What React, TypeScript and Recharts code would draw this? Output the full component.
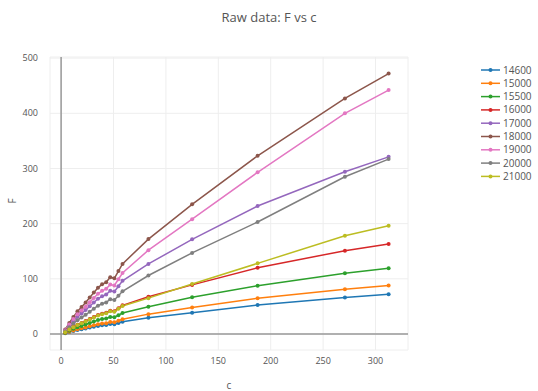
import React from "react";
import { LineChart, Line, XAxis, YAxis, CartesianGrid, ReferenceLine, Legend, Label } from "recharts";

const cValues = [3.9, 7.8, 11.7, 15.6, 19.5, 23.4, 27.3, 31.2, 35.2, 39.1, 43, 46.9, 50.8, 54.7, 58.6, 83.3, 125, 187.5, 270.8, 312.5];

const s14600 = [1.4, 3.5, 5.4, 7.2, 8.6, 10, 11.6, 13.1, 14.7, 15.8, 16.5, 18, 17.7, 20, 22.2, 29.6, 38.6, 52.5, 66, 72];
const s15000 = [1.7, 4.2, 6.5, 8.6, 10.3, 12, 13.9, 15.8, 17.6, 18.9, 19.7, 21.6, 21.2, 23.9, 26.7, 36, 48, 64.6, 81, 88];
const s15500 = [2.4, 6, 9.3, 12.3, 14.7, 17.1, 19.8, 22.5, 25.2, 27, 28.2, 30.9, 30.3, 34.2, 38, 49.5, 66.5, 87.5, 110, 119];
const s16000 = [3.3, 8.2, 12.7, 16.8, 20.1, 23.4, 27.1, 30.8, 34.4, 36.9, 38.5, 42.2, 41.4, 46.7, 52, 67.6, 89, 120, 151, 163];
const s17000 = [6.1, 15.2, 23.6, 31.2, 37.2, 43.3, 50.2, 57, 63.8, 68.4, 71.4, 78.3, 76.8, 86.6, 96.5, 127, 171.5, 232, 294, 321];
const s18000 = [8, 20, 31, 41, 49, 57, 66, 75, 84, 90, 94, 103, 101, 114, 127, 172, 235, 323, 427, 472];
const s19000 = [7, 17.4, 27, 35.7, 42.6, 49.6, 57.4, 65.3, 73, 78.3, 81.8, 89.6, 87.9, 99.2, 110.5, 152, 208, 293, 400, 442];
const s20000 = [4.9, 12.2, 18.9, 25, 29.9, 34.8, 40.3, 45.8, 51.2, 54.9, 57.3, 62.8, 61.6, 69.5, 77.5, 106, 147, 203, 285, 317];
const s21000 = [3.2, 8, 12.4, 16.4, 19.6, 22.8, 26.4, 30, 33.6, 36, 37.6, 41.2, 40.4, 45.6, 50.8, 65, 90.6, 128, 178, 196];

const seriesNames = ["14600", "15000", "15500", "16000", "17000", "18000", "19000", "20000", "21000"];
const seriesValues = [s14600, s15000, s15500, s16000, s17000, s18000, s19000, s20000, s21000];
const colors = ["#1f77b4", "#ff7f0e", "#2ca02c", "#d62728", "#9467bd", "#8c564b", "#e377c2", "#7f7f7f", "#bcbd22"];

const xTicks = [0, 50, 100, 150, 200, 250, 300];
const yTicks = [0, 100, 200, 300, 400, 500];

const data = cValues.map((c, i) => {
  const row: Record<string, number> = { c };
  seriesNames.forEach((n, k) => {
    row[n] = seriesValues[k][i];
  });
  return row;
});

const FONT = "'Open Sans', 'Noto Sans', sans-serif";

const LegendContent = () => (
  <svg width={60} height={130}>
    {seriesNames.map((n, i) => {
      const y = 7 + i * 13.3;
      return (
        <g key={n}>
          <line x1={3} x2={22} y1={y} y2={y} stroke={colors[i]} strokeWidth={1.5} />
          <circle cx={12.5} cy={y} r={2} fill={colors[i]} />
          <text x={25} y={y + 3.5} fontSize={10} fill="#555" fontFamily={FONT}>
            {n}
          </text>
        </g>
      );
    })}
  </svg>
);

export default function App() {
  return (
    <div style={{ position: "absolute", left: 0, top: 0, width: 538, height: 391, background: "#fff" }}>
      <div
        style={{
          position: "absolute",
          left: 0,
          top: 8,
          width: 538,
          textAlign: "center",
          fontFamily: FONT,
          fontSize: 13,
          color: "#555",
        }}
      >
        Raw data: F vs c
      </div>
      <LineChart width={538} height={391} data={data} margin={{ top: 57, right: 70, bottom: 0, left: 0 }}>
        <CartesianGrid stroke="#eeeeee" strokeWidth={1} />
        <XAxis
          dataKey="c"
          type="number"
          domain={[-10.6, 331]}
          ticks={xTicks}
          axisLine={false}
          tickLine={false}
          height={41}
          tick={{ fontSize: 9, fill: "#555", fontFamily: FONT }}
          tickMargin={2}
        >
          <Label value="c" position="insideBottom" offset={2} style={{ fontSize: 10, fill: "#555", fontFamily: FONT }} />
        </XAxis>
        <YAxis
          type="number"
          domain={[-29, 502]}
          ticks={yTicks}
          axisLine={false}
          tickLine={false}
          width={50}
          tick={{ fontSize: 9, fill: "#555", fontFamily: FONT }}
          tickMargin={6}
        >
          <Label value="F" angle={-90} position="insideLeft" offset={12} style={{ fontSize: 10, fill: "#555", fontFamily: FONT }} />
        </YAxis>
        <ReferenceLine x={0} stroke="#999" strokeWidth={1.5} />
        <ReferenceLine y={0} stroke="#999" strokeWidth={1.5} />
        {seriesNames.map((n, i) => (
          <Line
            key={n}
            dataKey={n}
            name={n}
            type="linear"
            stroke={colors[i]}
            strokeWidth={1.5}
            dot={{ r: 2, fill: colors[i], stroke: colors[i], strokeWidth: 0 }}
            isAnimationActive={false}
          />
        ))}
        <Legend
          layout="vertical"
          align="right"
          verticalAlign="top"
          content={<LegendContent />}
          wrapperStyle={{ position: "absolute", left: 478, top: 63, width: 60 }}
        />
      </LineChart>
    </div>
  );
}
